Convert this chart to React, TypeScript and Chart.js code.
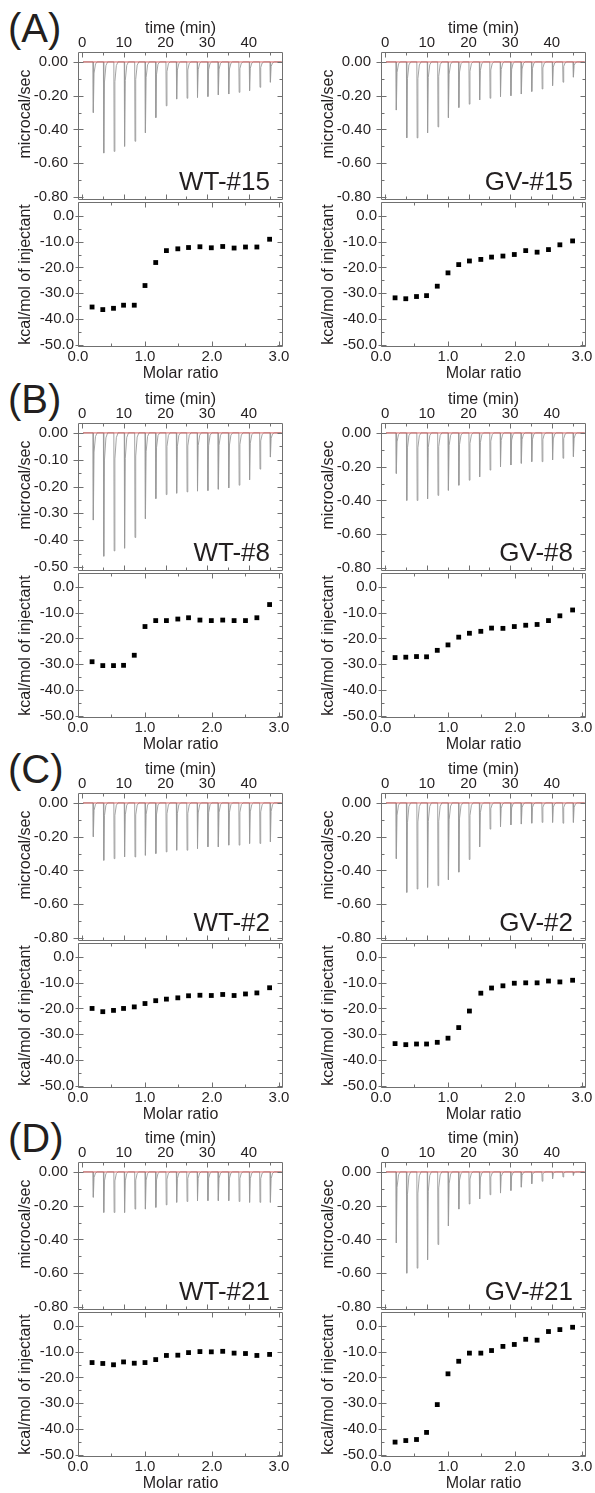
import React, { useEffect, useRef } from 'react';
import { Chart, registerables } from 'chart.js';

Chart.register(...registerables);

const FONT = '"Liberation Sans", Arial, Helvetica, sans-serif';
const TEXT = '#231f20';
const FRAME = '#707070';

// ---------- data ----------
const INJ_TIMES = [2.6, 5.1, 7.6, 10.1, 12.6, 15.1, 17.6, 20.1, 22.6, 25.1, 27.6, 30.1, 32.6, 35.1, 37.6, 40.1, 42.6, 45.1];
const MOLAR = [0.21, 0.37, 0.53, 0.68, 0.84, 1.0, 1.16, 1.32, 1.49, 1.65, 1.82, 1.99, 2.16, 2.33, 2.5, 2.67, 2.86];

const TIME_TICKS = [0, 10, 20, 30, 40];
const MOLAR_TICKS = [0, 1, 2, 3];
const RAW_TICKS_08 = [0, -0.2, -0.4, -0.6, -0.8];
const RAW_TICKS_05 = [0, -0.1, -0.2, -0.3, -0.4, -0.5];
const ISO_TICKS = [0, -10, -20, -30, -40, -50];

const A_WT_RAW = [-0.30, -0.54, -0.53, -0.50, -0.47, -0.42, -0.33, -0.26, -0.22, -0.215, -0.21, -0.205, -0.195, -0.19, -0.18, -0.17, -0.15, -0.12];
const A_GV_RAW = [-0.285, -0.45, -0.45, -0.42, -0.385, -0.33, -0.27, -0.25, -0.225, -0.215, -0.205, -0.2, -0.19, -0.175, -0.16, -0.14, -0.12, -0.09];
const B_WT_RAW = [-0.325, -0.46, -0.44, -0.43, -0.39, -0.32, -0.245, -0.23, -0.225, -0.22, -0.217, -0.215, -0.21, -0.205, -0.195, -0.175, -0.135, -0.09];
const B_GV_RAW = [-0.24, -0.4, -0.4, -0.39, -0.37, -0.34, -0.31, -0.28, -0.26, -0.22, -0.2, -0.19, -0.18, -0.17, -0.17, -0.16, -0.15, -0.14];
const C_WT_RAW = [-0.2, -0.34, -0.33, -0.32, -0.32, -0.31, -0.3, -0.29, -0.28, -0.28, -0.27, -0.26, -0.26, -0.25, -0.25, -0.24, -0.24, -0.23];
const C_GV_RAW = [-0.33, -0.53, -0.51, -0.5, -0.49, -0.455, -0.41, -0.335, -0.26, -0.155, -0.14, -0.13, -0.125, -0.12, -0.115, -0.115, -0.12, -0.115];
const D_WT_RAW = [-0.15, -0.24, -0.24, -0.24, -0.22, -0.22, -0.21, -0.195, -0.18, -0.175, -0.17, -0.17, -0.17, -0.17, -0.175, -0.18, -0.18, -0.18];
const D_GV_RAW = [-0.42, -0.6, -0.57, -0.52, -0.43, -0.32, -0.22, -0.19, -0.16, -0.135, -0.125, -0.11, -0.09, -0.07, -0.055, -0.04, -0.03, -0.02];

const A_WT_ISO = [-35.3, -36.3, -35.8, -34.6, -34.6, -27.0, -18.1, -13.5, -12.8, -12.3, -12.0, -12.4, -11.9, -12.5, -12.1, -12.1, -9.1];
const A_GV_ISO = [-31.75, -32.1, -31.25, -30.9, -27.25, -22.1, -18.9, -17.5, -16.9, -16.0, -15.6, -15.0, -13.5, -14.1, -13.1, -11.25, -9.75];
const B_WT_ISO = [-29.0, -30.5, -30.5, -30.4, -26.5, -15.4, -13.1, -13.1, -12.5, -12.0, -12.9, -13.1, -12.9, -13.1, -13.1, -12.0, -6.9];
const B_GV_ISO = [-27.4, -27.25, -27.0, -27.1, -24.6, -22.5, -19.5, -18.0, -17.25, -16.0, -16.1, -15.4, -14.9, -14.6, -13.1, -11.25, -9.0];
const C_WT_ISO = [-20.0, -21.25, -20.75, -20.0, -19.4, -18.1, -17.0, -16.4, -15.9, -15.1, -14.9, -15.0, -14.6, -15.0, -14.4, -14.0, -12.0];
const C_GV_ISO = [-33.6, -34.0, -33.75, -33.75, -33.1, -31.5, -27.4, -21.0, -14.1, -12.1, -11.25, -10.25, -10.1, -10.1, -9.4, -9.75, -9.1];
const D_WT_ISO = [-14.25, -14.6, -15.1, -14.0, -14.5, -14.25, -13.1, -11.5, -11.4, -10.4, -10.0, -10.1, -9.9, -10.6, -10.75, -11.5, -11.1];
const D_GV_ISO = [-45.0, -44.4, -44.0, -41.25, -30.5, -18.6, -13.75, -10.6, -10.6, -9.6, -8.0, -7.25, -5.25, -5.6, -2.25, -1.5, -0.6];

const ROW_LETTERS = ['(A)', '(B)', '(C)', '(D)'];
const PANEL_NAMES = [['WT-#15', 'GV-#15'], ['WT-#8', 'GV-#8'], ['WT-#2', 'GV-#2'], ['WT-#21', 'GV-#21']];

// ---------- layout ----------
const ROW_OFF = [0, 371, 741, 1110];
const COL_LEFT = [0, 303];
const CANVAS_W = [290, 292];
const PAD_R = [7, 9];

type PanelCfg = {
  row: number; col: number; name: string;
  raw: number[]; iso: number[];
  rawTicks: number[]; rawMin: number; rawMax: number; rawDec: number;
};

const RAW08 = { rawTicks: RAW_TICKS_08, rawMin: -0.818, rawMax: 0.059, rawDec: 2 };
const RAW05 = { rawTicks: RAW_TICKS_05, rawMin: -0.515, rawMax: 0.037, rawDec: 2 };

const PANELS: PanelCfg[] = [
  { row: 0, col: 0, name: PANEL_NAMES[0][0], raw: A_WT_RAW, iso: A_WT_ISO, ...RAW08 },
  { row: 0, col: 1, name: PANEL_NAMES[0][1], raw: A_GV_RAW, iso: A_GV_ISO, ...RAW08 },
  { row: 1, col: 0, name: PANEL_NAMES[1][0], raw: B_WT_RAW, iso: B_WT_ISO, ...RAW05 },
  { row: 1, col: 1, name: PANEL_NAMES[1][1], raw: B_GV_RAW, iso: B_GV_ISO, ...RAW08 },
  { row: 2, col: 0, name: PANEL_NAMES[2][0], raw: C_WT_RAW, iso: C_WT_ISO, ...RAW08 },
  { row: 2, col: 1, name: PANEL_NAMES[2][1], raw: C_GV_RAW, iso: C_GV_ISO, ...RAW08 },
  { row: 3, col: 0, name: PANEL_NAMES[3][0], raw: D_WT_RAW, iso: D_WT_ISO, ...RAW08 },
  { row: 3, col: 1, name: PANEL_NAMES[3][1], raw: D_GV_RAW, iso: D_GV_ISO, ...RAW08 },
];

function midpoints(vals: number[], extendEnd?: boolean): number[] {
  const out: number[] = [];
  for (let i = 0; i < vals.length - 1; i++) out.push((vals[i] + vals[i + 1]) / 2);
  if (extendEnd && vals.length > 1) out.push(vals[vals.length - 1] + (vals[1] - vals[0]) / 2);
  return out;
}

// draws the Origin-style closed frame with tick marks on every side
const framePlugin = {
  id: 'originFrame',
  afterDraw(chart: any, _args: any, opts: any) {
    const { ctx, chartArea: a, scales } = chart;
    const xs = scales.x, ys = scales.y;
    const L = Math.round(a.left) + 0.5;
    const R = Math.round(a.right) - 0.5;
    const T = Math.round(a.top) + 0.5;
    const B = Math.round(a.bottom) - 0.5;
    ctx.save();
    ctx.strokeStyle = FRAME;
    ctx.lineWidth = 1;
    ctx.beginPath();
    ctx.rect(L, T, R - L, B - T);
    ctx.stroke();
    const xMaj: number[] = opts.xMajor || [];
    const xMin: number[] = opts.xMinor || [];
    const yMaj: number[] = opts.yMajor || [];
    const yMin: number[] = opts.yMinor || [];
    ctx.beginPath();
    const hx = (v: number, len: number, out: number) => {
      const p = Math.round(xs.getPixelForValue(v)) + 0.5;
      if (p < L - 1 || p > R + 1) return;
      ctx.moveTo(p, T - out); ctx.lineTo(p, T + len);
      ctx.moveTo(p, B + out); ctx.lineTo(p, B - len);
    };
    const hy = (v: number, len: number, outL: number) => {
      const p = Math.round(ys.getPixelForValue(v)) + 0.5;
      if (p < T - 1 || p > B + 1) return;
      ctx.moveTo(L - outL, p); ctx.lineTo(L + len, p);
      ctx.moveTo(R, p); ctx.lineTo(R - len, p);
    };
    xMaj.forEach(v => hx(v, 5, opts.xOut || 0));
    xMin.forEach(v => hx(v, 3, 0));
    yMaj.forEach(v => hy(v, 5, opts.yOut || 0));
    yMin.forEach(v => hy(v, 3, 0));
    ctx.stroke();
    if (opts.yTitle) {
      ctx.save();
      ctx.fillStyle = TEXT;
      ctx.font = `16px ${FONT}`;
      ctx.textAlign = 'center';
      ctx.textBaseline = 'middle';
      ctx.translate(opts.yTitleX, a.top + opts.yTitleDy);
      ctx.rotate(-Math.PI / 2);
      ctx.fillText(opts.yTitle, 0, 0);
      ctx.restore();
    }
    if (opts.name) {
      ctx.fillStyle = TEXT;
      ctx.font = `26px ${FONT}`;
      ctx.textAlign = 'right';
      ctx.textBaseline = 'alphabetic';
      ctx.fillText(opts.name, a.right - 13, a.bottom - 10);
    }
    ctx.restore();
  },
};

const tickFont = { family: FONT, size: 15 };
const titleFont = { family: FONT, size: 16 };

function fixW(w: number) {
  return (s: any) => { s.width = w; s.paddingTop = 0; s.paddingBottom = 0; };
}
function fixH(h: number) {
  return (s: any) => { s.height = h; s.paddingLeft = 0; s.paddingRight = 0; };
}

function buildTrace(raw: number[]) {
  const pts: { x: number; y: number }[] = [{ x: 0.2, y: 0 }];
  INJ_TIMES.forEach((t, i) => {
    const d = raw[i];
    pts.push({ x: t, y: 0 });
    pts.push({ x: t + 0.08, y: d });
    pts.push({ x: t + 0.25, y: d * 0.22 });
    pts.push({ x: t + 0.6, y: d * 0.04 });
    pts.push({ x: t + 1.0, y: 0 });
  });
  pts.push({ x: 47.9, y: 0 });
  return pts;
}

function Panel({ cfg }: { cfg: PanelCfg }) {
  const rawRef = useRef<HTMLCanvasElement>(null);
  const isoRef = useRef<HTMLCanvasElement>(null);
  const top = ROW_OFF[cfg.row];
  const left = COL_LEFT[cfg.col];
  const w = CANVAS_W[cfg.col];
  const padR = PAD_R[cfg.col];

  useEffect(() => {
    const rawChart = new Chart(rawRef.current as HTMLCanvasElement, {
      type: 'line',
      data: {
        datasets: [
          {
            data: [{ x: 0.2, y: 0 }, { x: 47.9, y: 0 }],
            borderColor: '#d23c3c', borderWidth: 0.8, pointRadius: 0, tension: 0,
          },
          {
            data: buildTrace(cfg.raw),
            borderColor: '#9a9a9a', borderWidth: 0.9, pointRadius: 0, tension: 0,
          },
        ],
      },
      options: {
        responsive: false, animation: false, devicePixelRatio: 1,
        parsing: false as any,
        layout: { padding: { left: 0, right: padR, top: 0, bottom: 1 } },
        plugins: {
          legend: { display: false }, tooltip: { enabled: false },
          originFrame: {
            xMajor: TIME_TICKS, xMinor: midpoints(TIME_TICKS, true),
            yMajor: cfg.rawTicks, yMinor: midpoints(cfg.rawTicks),
            yOut: 5, name: cfg.name, yTitle: 'microcal/sec', yTitleX: 26, yTitleDy: 62,
          },
        } as any,
        scales: {
          x: {
            type: 'linear', position: 'top', min: -1, max: 48.2,
            afterFit: fixH(52),
            afterBuildTicks: (s: any) => { s.ticks = TIME_TICKS.map(value => ({ value })); },
            grid: { display: false, drawTicks: false }, border: { display: false },
            ticks: { padding: 0, font: tickFont, color: TEXT, autoSkip: false, maxRotation: 0, callback: (v: any) => String(v) },
            title: { display: true, text: 'time (min)', font: titleFont, color: TEXT, padding: { top: 19, bottom: 0 } },
          },
          y: {
            type: 'linear', min: cfg.rawMin, max: cfg.rawMax,
            afterFit: fixW(78),
            afterBuildTicks: (s: any) => { s.ticks = cfg.rawTicks.map(value => ({ value })); },
            grid: { display: false, drawTicks: false }, border: { display: false },
            ticks: { padding: 10, font: tickFont, color: TEXT, autoSkip: false, callback: (v: any) => Number(v).toFixed(cfg.rawDec) },
          },
        },
      } as any,
      plugins: [framePlugin],
    });

    const isoChart = new Chart(isoRef.current as HTMLCanvasElement, {
      type: 'scatter',
      data: {
        datasets: [
          {
            data: MOLAR.map((x, i) => ({ x, y: cfg.iso[i] })),
            pointStyle: 'rect', pointRadius: 3.4, backgroundColor: '#000', borderWidth: 0,
          },
        ],
      },
      options: {
        responsive: false, animation: false, devicePixelRatio: 1,
        layout: { padding: { left: 0, right: padR, top: 1, bottom: 0 } },
        plugins: {
          legend: { display: false }, tooltip: { enabled: false },
          originFrame: {
            xMajor: MOLAR_TICKS, xMinor: midpoints(MOLAR_TICKS),
            yMajor: ISO_TICKS, yMinor: midpoints(ISO_TICKS),
            yOut: 3,
          },
        } as any,
        scales: {
          x: {
            type: 'linear', position: 'bottom', min: 0, max: 3.06,
            afterFit: fixH(36),
            afterBuildTicks: (s: any) => { s.ticks = MOLAR_TICKS.map(value => ({ value })); },
            grid: { display: false, drawTicks: false }, border: { display: false },
            ticks: { padding: 1, font: tickFont, color: TEXT, autoSkip: false, maxRotation: 0, callback: (v: any) => Number(v).toFixed(1) },
            title: { display: true, text: 'Molar ratio', font: titleFont, color: TEXT, padding: { top: 0, bottom: 0 } },
          },
          y: {
            type: 'linear', min: -50.76, max: 5.3,
            afterFit: fixW(78),
            afterBuildTicks: (s: any) => { s.ticks = ISO_TICKS.map(value => ({ value })); },
            grid: { display: false, drawTicks: false }, border: { display: false },
            ticks: { padding: 4, font: tickFont, color: TEXT, autoSkip: false, callback: (v: any) => Number(v).toFixed(1) },
            title: { display: true, text: 'kcal/mol of injectant', font: titleFont, color: TEXT, padding: { top: 16, bottom: 0 } },
          },
        },
      } as any,
      plugins: [framePlugin],
    });

    return () => { rawChart.destroy(); isoChart.destroy(); };
  }, [cfg]);

  return (
    <>
      <canvas ref={rawRef} width={w} height={201}
        style={{ position: 'absolute', left, top, width: w, height: 201 }} />
      <canvas ref={isoRef} width={w} height={185}
        style={{ position: 'absolute', left, top: top + 198, width: w, height: 185 }} />
    </>
  );
}

export default function App() {
  return (
    <div style={{ position: 'absolute', left: 0, top: 0, width: 595, height: 1493, background: '#fff', overflow: 'hidden', fontFamily: FONT }}>
      {ROW_LETTERS.map((t, r) => (
        <div key={t} style={{ position: 'absolute', left: 8, top: ROW_OFF[r] + 8, fontSize: 40, lineHeight: '40px', color: TEXT, whiteSpace: 'nowrap' }}>{t}</div>
      ))}
      {PANELS.map((p, i) => <Panel key={i} cfg={p} />)}
    </div>
  );
}
